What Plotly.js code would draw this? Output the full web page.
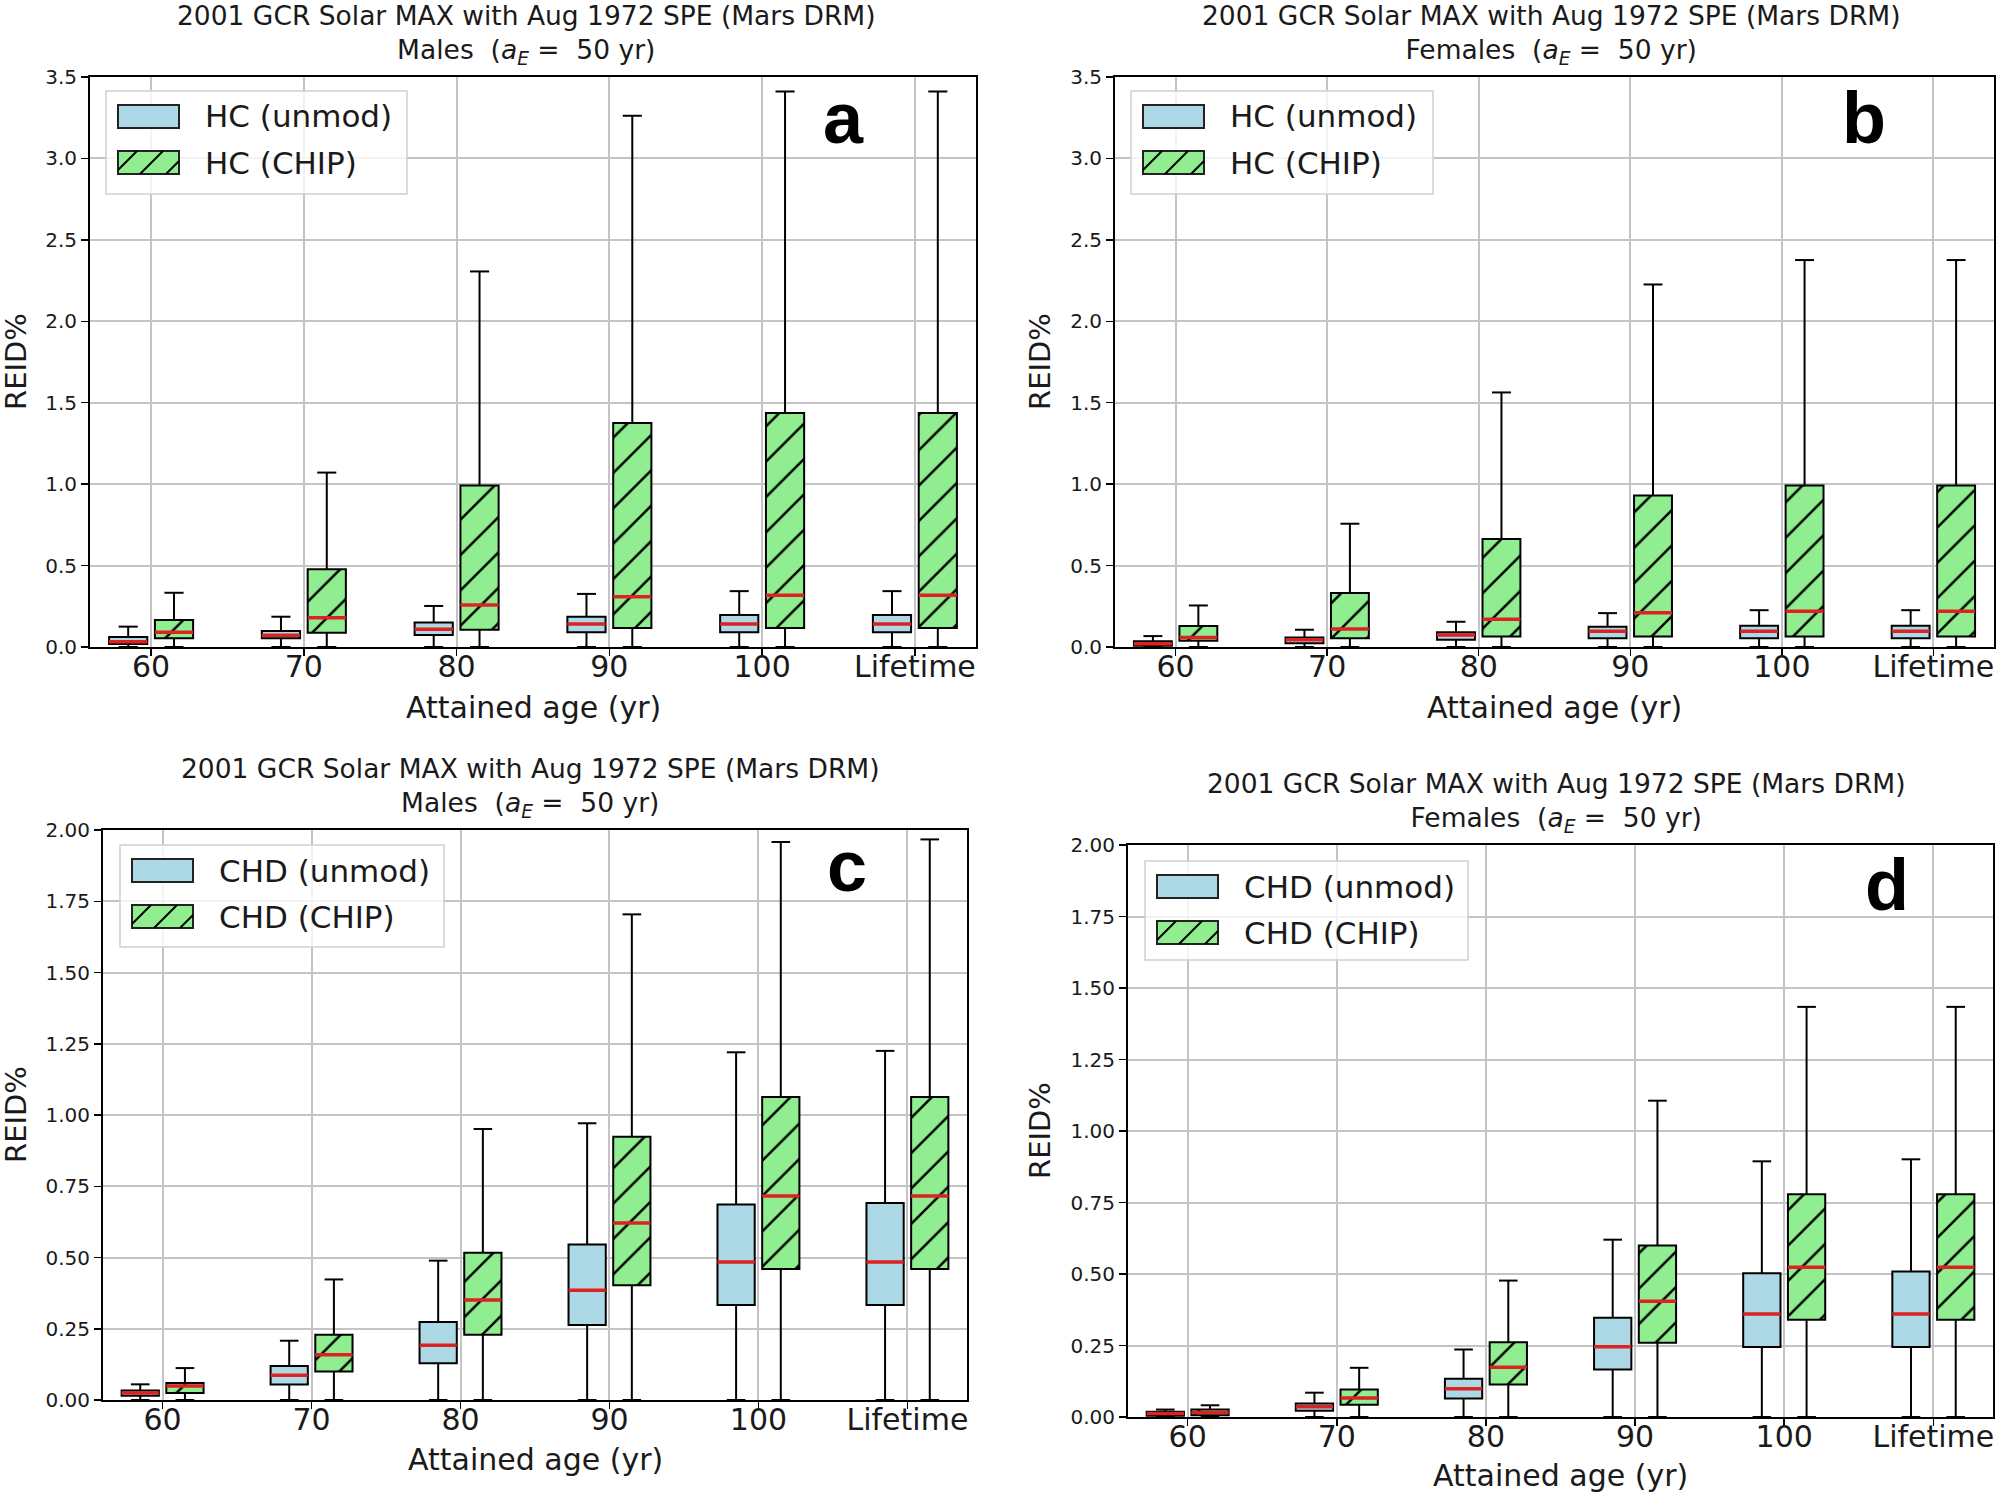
<!DOCTYPE html>
<html><head><meta charset="utf-8">
<script src="https://cdn.plot.ly/plotly-3.0.1.min.js"></script>
<style>html,body{margin:0;padding:0;background:#fff}</style>
</head><body><div id="chart" style="width:2000px;height:1497px"></div>
<script>
// ---------------- DATA ----------------
const categories = ['60', '70', '80', '90', '100', 'Lifetime'];

// Panel a: HC, Males
const aUnmodQ1    = [0.018, 0.053, 0.073, 0.091, 0.091, 0.091];
const aUnmodMed   = [0.033, 0.072, 0.109, 0.141, 0.141, 0.141];
const aUnmodQ3    = [0.061, 0.098, 0.150, 0.185, 0.197, 0.197];
const aUnmodUpper = [0.125, 0.186, 0.252, 0.326, 0.343, 0.343];
const aUnmodLower = [0, 0, 0, 0, 0, 0];
const aChipQ1     = [0.053, 0.088, 0.106, 0.117, 0.117, 0.117];
const aChipMed    = [0.090, 0.180, 0.258, 0.308, 0.317, 0.317];
const aChipQ3     = [0.166, 0.477, 0.991, 1.376, 1.437, 1.437];
const aChipUpper  = [0.333, 1.071, 2.306, 3.262, 3.411, 3.411];
const aChipLower  = [0, 0, 0, 0, 0, 0];

// Panel b: HC, Females
const bUnmodQ1    = [0.008, 0.023, 0.044, 0.053, 0.053, 0.053];
const bUnmodMed   = [0.020, 0.044, 0.073, 0.097, 0.097, 0.097];
const bUnmodQ3    = [0.035, 0.059, 0.091, 0.125, 0.130, 0.130];
const bUnmodUpper = [0.067, 0.106, 0.155, 0.208, 0.226, 0.226];
const bUnmodLower = [0, 0, 0, 0, 0, 0];
const bChipQ1     = [0.038, 0.053, 0.065, 0.065, 0.065, 0.065];
const bChipMed    = [0.059, 0.111, 0.170, 0.211, 0.220, 0.220];
const bChipQ3     = [0.129, 0.331, 0.663, 0.930, 0.991, 0.991];
const bChipUpper  = [0.255, 0.757, 1.563, 2.226, 2.376, 2.376];
const bChipLower  = [0, 0, 0, 0, 0, 0];

// Panel c: CHD, Males
const cUnmodQ1    = [0.015, 0.054, 0.129, 0.263, 0.333, 0.333];
const cUnmodMed   = [0.025, 0.087, 0.192, 0.385, 0.484, 0.484];
const cUnmodQ3    = [0.033, 0.119, 0.274, 0.546, 0.686, 0.691];
const cUnmodUpper = [0.055, 0.208, 0.489, 0.971, 1.220, 1.225];
const cUnmodLower = [0, 0, 0, 0, 0, 0];
const cChipQ1     = [0.025, 0.100, 0.229, 0.403, 0.460, 0.460];
const cChipMed    = [0.049, 0.159, 0.351, 0.621, 0.716, 0.716];
const cChipQ3     = [0.060, 0.229, 0.517, 0.924, 1.063, 1.063];
const cChipUpper  = [0.112, 0.423, 0.951, 1.704, 1.958, 1.967];
const cChipLower  = [0, 0, 0, 0, 0, 0];

// Panel d: CHD, Females
const dUnmodQ1    = [0.004, 0.022, 0.065, 0.166, 0.245, 0.245];
const dUnmodMed   = [0.012, 0.036, 0.099, 0.246, 0.360, 0.360];
const dUnmodQ3    = [0.018, 0.047, 0.134, 0.347, 0.503, 0.509];
const dUnmodUpper = [0.026, 0.085, 0.236, 0.620, 0.894, 0.901];
const dUnmodLower = [0, 0, 0, 0, 0, 0];
const dChipQ1     = [0.006, 0.043, 0.114, 0.260, 0.340, 0.340];
const dChipMed    = [0.016, 0.066, 0.174, 0.405, 0.524, 0.524];
const dChipQ3     = [0.026, 0.096, 0.261, 0.600, 0.779, 0.779];
const dChipUpper  = [0.041, 0.172, 0.477, 1.106, 1.434, 1.434];
const dChipLower  = [0, 0, 0, 0, 0, 0];

const titleLine1 = '2001 GCR Solar MAX with Aug 1972 SPE (Mars DRM)';
const sexLabels = ['Males', 'Females', 'Males', 'Females'];
const legendLabels = [['HC (unmod)', 'HC (CHIP)'], ['HC (unmod)', 'HC (CHIP)'],
                      ['CHD (unmod)', 'CHD (CHIP)'], ['CHD (unmod)', 'CHD (CHIP)']];
const panelLetters = ['a', 'b', 'c', 'd'];
const xTitle = 'Attained age (yr)';
const yTitle = 'REID%';

// ---------------- STYLE / LAYOUT ----------------
const W = 2000, H = 1497;
const PX = v => v / W;
const PY = v => 1 - v / H;
const FONT = 'DejaVu Sans, Noto Sans, sans-serif';
const TXT = '#1a1a1a';
const UNMOD_COLOR = '#add8e6';
const CHIP_COLOR = '#90ee90';
const MED_COLOR = '#dd2222';
const BOX_W = 0.25, BOX_OFF = 0.15, CAP_HALF = 0.0625;

const series = [
  {unmod: [aUnmodQ1, aUnmodMed, aUnmodQ3, aUnmodUpper, aUnmodLower], chip: [aChipQ1, aChipMed, aChipQ3, aChipUpper, aChipLower]},
  {unmod: [bUnmodQ1, bUnmodMed, bUnmodQ3, bUnmodUpper, bUnmodLower], chip: [bChipQ1, bChipMed, bChipQ3, bChipUpper, bChipLower]},
  {unmod: [cUnmodQ1, cUnmodMed, cUnmodQ3, cUnmodUpper, cUnmodLower], chip: [cChipQ1, cChipMed, cChipQ3, cChipUpper, cChipLower]},
  {unmod: [dUnmodQ1, dUnmodMed, dUnmodQ3, dUnmodUpper, dUnmodLower], chip: [dChipQ1, dChipMed, dChipQ3, dChipUpper, dChipLower]},
];

// panel geometry in pixels (plot-area frames)
const geo = [
  {x0: 90,   x1: 976,  y0: 77,  y1: 647,  ymax: 3.5, dtick: 0.5,  fmt: '.1f',
   leg: {l: 106, t: 91, w: 301, h: 103}, letter: {x: 843, y: 118}, ytx: 16, tx: 526, ty: 35, xty: 707},
  {x0: 1115, x1: 1994, y0: 77,  y1: 647,  ymax: 3.5, dtick: 0.5,  fmt: '.1f',
   leg: {l: 1131, t: 91, w: 302, h: 103}, letter: {x: 1864, y: 118}, ytx: 1040, tx: 1551, ty: 35, xty: 707},
  {x0: 103,  x1: 967,  y0: 830, y1: 1400, ymax: 2.0, dtick: 0.25, fmt: '.2f',
   leg: {l: 120, t: 845, w: 324, h: 102}, letter: {x: 847, y: 866}, ytx: 16, tx: 530, ty: 787, xty: 1459},
  {x0: 1128, x1: 1993, y0: 845, y1: 1417, ymax: 2.0, dtick: 0.25, fmt: '.2f',
   leg: {l: 1145, t: 861, w: 323, h: 99}, letter: {x: 1887, y: 885}, ytx: 1040, tx: 1556, ty: 802, xty: 1475},
];

const idx = categories.map((_, i) => i);
const traces = [];
const layout = {
  width: W, height: H, margin: {l: 0, r: 0, t: 0, b: 0},
  paper_bgcolor: 'white', plot_bgcolor: 'white',
  showlegend: false, barmode: 'overlay',
  font: {family: FONT, color: TXT},
  annotations: [], shapes: []
};

function whiskerTrace(stats, off, xa, ya) {
  const [q1, med, q3, up, lo] = stats;
  const xs = [], ys = [];
  idx.forEach(i => {
    const c = i + off;
    xs.push(c, c, null, c - CAP_HALF, c + CAP_HALF, null, c, c, null, c - CAP_HALF, c + CAP_HALF, null);
    ys.push(q3[i], up[i], null, up[i], up[i], null, q1[i], lo[i], null, lo[i], lo[i], null);
  });
  return {type: 'scatter', mode: 'lines', x: xs, y: ys, xaxis: xa, yaxis: ya,
          line: {color: 'black', width: 2}, hoverinfo: 'skip', connectgaps: false};
}
function medianTrace(stats, off, xa, ya) {
  const med = stats[1];
  const xs = [], ys = [];
  idx.forEach(i => {
    const c = i + off;
    xs.push(c - BOX_W / 2, c + BOX_W / 2, null);
    ys.push(med[i], med[i], null);
  });
  return {type: 'scatter', mode: 'lines', x: xs, y: ys, xaxis: xa, yaxis: ya,
          line: {color: MED_COLOR, width: 3.5}, hoverinfo: 'skip', connectgaps: false};
}
function boxBar(stats, off, xa, ya, chip) {
  const [q1, , q3] = stats;
  const marker = {color: chip ? CHIP_COLOR : UNMOD_COLOR, line: {color: 'black', width: 2}};
  if (chip) marker.pattern = {shape: '/', size: 25, solidity: 0.1, fgcolor: 'black', bgcolor: CHIP_COLOR, fillmode: 'replace'};
  return {type: 'bar', x: idx, base: q1, y: q3.map((v, i) => v - q1[i]),
          width: BOX_W, offset: off - BOX_W / 2, xaxis: xa, yaxis: ya, marker: marker, hoverinfo: 'skip'};
}

geo.forEach((g, p) => {
  const n = p === 0 ? '' : String(p + 1);
  const xa = 'x' + n, ya = 'y' + n;
  const s = series[p];
  traces.push(boxBar(s.unmod, -BOX_OFF, xa, ya, false));
  traces.push(boxBar(s.chip, BOX_OFF, xa, ya, true));
  traces.push(whiskerTrace(s.unmod, -BOX_OFF, xa, ya));
  traces.push(whiskerTrace(s.chip, BOX_OFF, xa, ya));
  traces.push(medianTrace(s.unmod, -BOX_OFF, xa, ya));
  traces.push(medianTrace(s.chip, BOX_OFF, xa, ya));

  layout['xaxis' + n] = {
    domain: [PX(g.x0), PX(g.x1)], anchor: ya, range: [-0.4, 5.4],
    tickmode: 'array', tickvals: idx, ticktext: categories,
    showgrid: true, gridcolor: '#c4c4c4', gridwidth: 2, zeroline: false,
    showline: true, mirror: true, linecolor: 'black', linewidth: 2,
    ticks: 'outside', ticklen: 7, tickwidth: 1.5, tickcolor: 'black',
    ticklabelstandoff: -15,
    tickfont: {size: 30, family: FONT, color: TXT}, fixedrange: true
  };
  layout['yaxis' + n] = {
    domain: [PY(g.y1), PY(g.y0)], anchor: xa, range: [0, g.ymax],
    tickmode: 'linear', tick0: 0, dtick: g.dtick, tickformat: g.fmt,
    showgrid: true, gridcolor: '#c4c4c4', gridwidth: 2, zeroline: false,
    showline: true, mirror: true, linecolor: 'black', linewidth: 2,
    ticks: 'outside', ticklen: 7, tickwidth: 1.5, tickcolor: 'black',
    tickfont: {size: 20, family: FONT, color: TXT}, fixedrange: true
  };

  // titles
  layout.annotations.push({
    xref: 'paper', yref: 'paper', x: PX(g.tx), y: PY(g.ty), xanchor: 'center', yanchor: 'middle',
    showarrow: false, font: {size: 26.5, family: FONT, color: TXT},
    text: titleLine1 + '<br>' + sexLabels[p] + '&nbsp; (<i>a</i><sub><i>E</i></sub> =&nbsp; 50 yr)'
  });
  // axis titles
  layout.annotations.push({
    xref: 'paper', yref: 'paper', x: PX((g.x0 + g.x1) / 2), y: PY(g.xty), xanchor: 'center', yanchor: 'middle',
    showarrow: false, font: {size: 30, family: FONT, color: TXT}, text: xTitle
  });
  layout.annotations.push({
    xref: 'paper', yref: 'paper', x: PX(g.ytx), y: PY((g.y0 + g.y1) / 2), xanchor: 'center', yanchor: 'middle',
    showarrow: false, textangle: -90, font: {size: 29, family: FONT, color: TXT}, text: yTitle
  });
  // panel letter
  layout.annotations.push({
    xref: 'paper', yref: 'paper', x: PX(g.letter.x), y: PY(g.letter.y), xanchor: 'center', yanchor: 'middle',
    showarrow: false, font: {size: 72, family: 'Liberation Sans, Arial, sans-serif', color: 'black', weight: 'bold'},
    text: '<b>' + panelLetters[p] + '</b>'
  });

  // legend (frame, patches, labels)
  const L = g.leg;
  layout.shapes.push({type: 'rect', xref: 'paper', yref: 'paper', layer: 'above',
    x0: PX(L.l), x1: PX(L.l + L.w), y0: PY(L.t + L.h), y1: PY(L.t),
    line: {color: '#d0d0d0', width: 1.5}, fillcolor: 'rgba(255,255,255,0.8)'});
  const pl = L.l + 12, pw = 61, ph = 23;
  const rows = [L.t + 14, L.t + 60];
  [UNMOD_COLOR, CHIP_COLOR].forEach((col, k) => {
    const pt = rows[k];
    layout.shapes.push({type: 'rect', xref: 'paper', yref: 'paper', layer: 'above',
      x0: PX(pl), x1: PX(pl + pw), y0: PY(pt + ph), y1: PY(pt),
      line: {color: '#222', width: 2}, fillcolor: col});
    if (k === 1) {
      let d = '';
      for (let j = 0; j < 4; j++) {
        const bx = pl - 4 + j * 26;       // bottom intercept of hatch line
        let xs = bx, ys = pt + ph, xe = bx + ph, ye = pt;
        if (xs < pl) { ys = pt + ph - (pl - bx); xs = pl; }
        if (xe > pl + pw) { xe = pl + pw; ye = pt + ph - (pl + pw - bx); }
        if (xe <= xs) continue;
        d += 'M' + PX(xs) + ',' + PY(ys) + 'L' + PX(xe) + ',' + PY(ye);
      }
      layout.shapes.push({type: 'path', xref: 'paper', yref: 'paper', layer: 'above', path: d,
        line: {color: 'black', width: 2}});
    }
    layout.annotations.push({
      xref: 'paper', yref: 'paper', x: PX(L.l + 97), y: PY(pt + ph / 2), xanchor: 'left', yanchor: 'middle',
      showarrow: false, font: {size: 31, family: FONT, color: TXT}, text: legendLabels[p][k]
    });
  });
});

Plotly.newPlot('chart', traces, layout, {displayModeBar: false, staticPlot: true});
</script></body></html>
